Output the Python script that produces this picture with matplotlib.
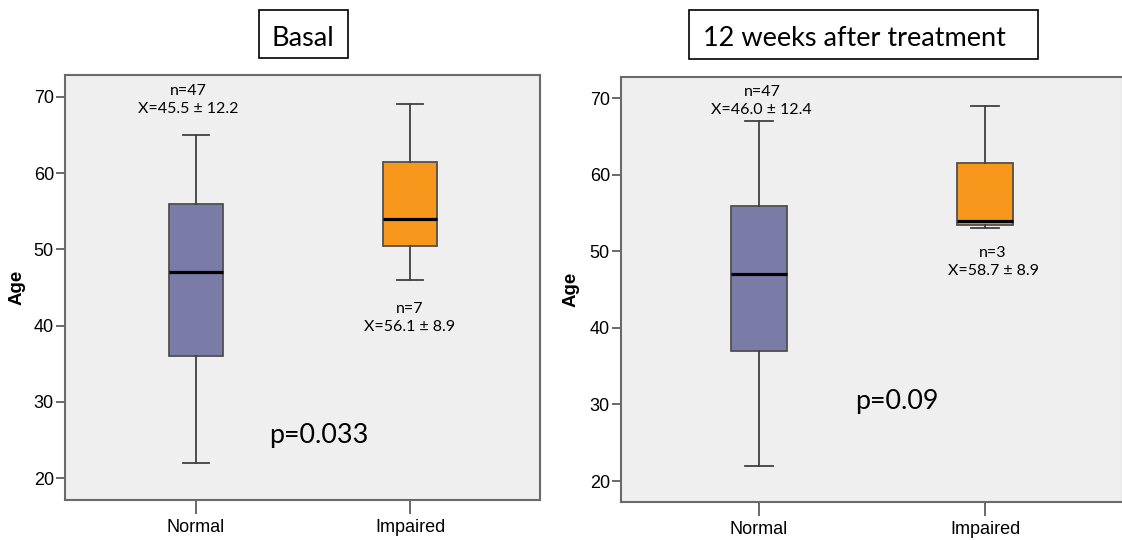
import matplotlib
matplotlib.use("Agg")
import matplotlib.pyplot as plt
from matplotlib.patches import Rectangle

# data (whisker low, Q1, median, Q3, whisker high)
groups = ["Normal", "Impaired"]
basal_normal = [22, 36, 47, 56, 65]
basal_impaired = [46, 50.5, 54, 61.5, 69]
week12_normal = [22, 37, 47, 56, 67]
week12_impaired = [53, 53.5, 54, 61.5, 69]

basal_notes = ["n=47\nX=45.5 ± 12.2", "n=7\nX=56.1 ± 8.9"]
week12_notes = ["n=47\nX=46.0 ± 12.4", "n=3\nX=58.7 ± 8.9"]
yticks = [20, 30, 40, 50, 60, 70]

PURPLE = "#7B7BA8"
ORANGE = "#F7981D"
BG = "#EFEFEF"
EDGE = "#505050"
TXT_FONT = ["Lato", "DejaVu Sans"]
AX_FONT = ["Liberation Sans", "DejaVu Sans"]
W, H = 1122, 540


def stats(vals, label):
    lo, q1, med, q3, hi = vals
    return dict(whislo=lo, q1=q1, med=med, q3=q3, whishi=hi, label=label, fliers=[])


def panel(ax, normal, impaired, notes, note_pos, pval, p_pos, ylim, xlim):
    bp = ax.bxp([stats(normal, groups[0]), stats(impaired, groups[1])],
                positions=[1, 2], widths=0.25, patch_artist=True, showfliers=False,
                boxprops=dict(edgecolor=EDGE, linewidth=1.3),
                medianprops=dict(color="black", linewidth=2.3),
                whiskerprops=dict(color="#404040", linewidth=1.3),
                capprops=dict(color="#404040", linewidth=1.3), capwidths=0.125)
    for patch, c in zip(bp["boxes"], [PURPLE, ORANGE]):
        patch.set_facecolor(c)
    ax.set_facecolor(BG)
    ax.set_xlim(*xlim)
    ax.set_ylim(*ylim)
    ax.set_yticks(yticks)
    ax.set_xticks([1, 2])
    ax.set_xticklabels(groups)
    for s in ax.spines.values():
        s.set_color("#6A6A6A")
        s.set_linewidth(1.5)
    ax.tick_params(axis="both", colors="#505050", labelcolor="black", labelsize=13,
                   width=1.2)
    ax.tick_params(axis="y", length=6.5, pad=1.5)
    ax.tick_params(axis="x", length=10, pad=4)
    for lab in ax.get_xticklabels() + ax.get_yticklabels():
        lab.set_family(AX_FONT)
    ax.set_ylabel("Age", fontweight="bold", fontsize=13.5, family=AX_FONT, va="center")
    ax.yaxis.set_label_coords(-0.1, 0.5)
    for txt, (x, y) in zip(notes, note_pos):
        ax.text(x, y, txt, ha="center", va="center", fontsize=11.5, family=TXT_FONT,
                linespacing=1.38)
    ax.text(p_pos[0], p_pos[1], pval, ha="center", va="center", fontsize=19.4,
            family=TXT_FONT)


def title_box(fig, x0, x1, y0, y1, text, tx, ha):
    fig.patches.append(Rectangle((x0 / W, 1 - y1 / H), (x1 - x0) / W, (y1 - y0) / H,
                                 transform=fig.transFigure, facecolor="white",
                                 edgecolor="black", linewidth=1.2))
    fig.text(tx / W, 1 - 46.5 / H, text, ha=ha, va="baseline", fontsize=19.5,
             family=TXT_FONT)


fig = plt.figure(figsize=(11.22, 5.40), dpi=100)
fig.patch.set_facecolor("white")

ax1 = fig.add_axes([65 / W, 40 / H, 475 / W, 425 / H])
panel(ax1, basal_normal, basal_impaired, basal_notes,
      [(0.963, 69.54), (1.998, 41.0)], "p=0.033", (1.575, 25.58),
      (17.16, 72.84), (0.388, 2.607))

ax2 = fig.add_axes([621 / W, 38.3 / H, 502 / W, 424.4 / H])
panel(ax2, week12_normal, week12_impaired, week12_notes,
      [(1.012, 69.7), (2.035, 48.6)], "p=0.09", (1.609, 30.4),
      (17.3, 72.75), (0.389, 2.61))

# boxed panel titles
title_box(fig, 259.3, 347.7, 10, 58.3, "Basal", 303.3, "center")
title_box(fig, 689.3, 1038.3, 10, 58.7, "12 weeks after treatment", 702.7, "left")

fig.savefig("out.png", dpi=100)
